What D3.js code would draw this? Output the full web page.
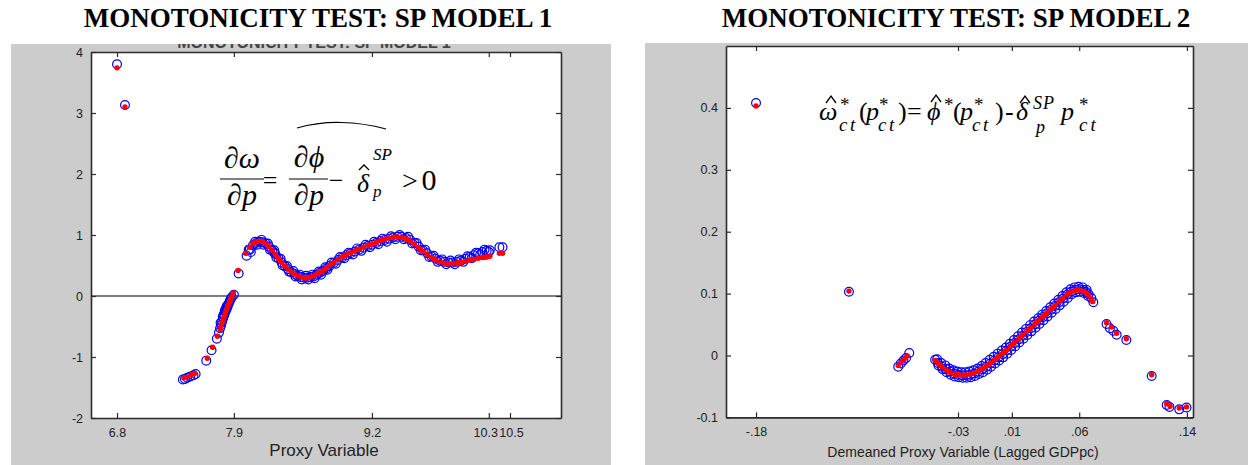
<!DOCTYPE html>
<html><head><meta charset="utf-8">
<script src="https://cdn.jsdelivr.net/npm/d3@7"></script>
<style>body{margin:0;background:#fff}svg{display:block}</style>
</head><body><svg id="c" width="1248" height="465"></svg>
<script>
// ---------- Data ----------
const titles = ["MONOTONICITY TEST: SP MODEL 1", "MONOTONICITY TEST: SP MODEL 2"];
const xLabels = ["Proxy Variable", "Demeaned Proxy Variable (Lagged GDPpc)"];

const m1XTicks = [6.8, 7.9, 9.2, 10.3, 10.5];
const m1XTickLabels = ["6.8", "7.9", "9.2", "10.3", "10.5"];
const m1YTicks = [-2, -1, 0, 1, 2, 3, 4];
const m1YTickLabels = ["-2", "-1", "0", "1", "2", "3", "4"];

const m2XTicks = [-0.18, -0.03, 0.01, 0.06, 0.14];
const m2XTickLabels = ["-.18", "-.03", ".01", ".06", ".14"];
const m2YTicks = [-0.1, 0, 0.1, 0.2, 0.3, 0.4];
const m2YTickLabels = ["-0.1", "0", "0.1", "0.2", "0.3", "0.4"];

// Model 1: blue open circles
const m1Blue = [
 [6.80,3.80],[6.875,3.13],
 [7.42,-1.37],[7.44,-1.36],[7.46,-1.34],[7.49,-1.32],[7.52,-1.30],[7.54,-1.28],
 [7.64,-1.06],[7.69,-0.89],[7.74,-0.70],[7.76,-0.60],[7.77,-0.53],[7.78,-0.48],[7.79,-0.42],
 [7.80,-0.36],[7.81,-0.31],[7.82,-0.26],[7.83,-0.22],[7.84,-0.18],[7.85,-0.13],[7.86,-0.09],
 [7.87,-0.05],[7.88,-0.02],[7.90,0.02],
 [7.945,0.37],[8.02,0.66],[8.05,0.76],[8.08,0.83],[8.11,0.87],[8.14,0.89],[8.17,0.88],[8.20,0.86],
 [8.23,0.81],[8.26,0.75],[8.28,0.71],[8.29,0.69],[8.32,0.62],[8.35,0.55],[8.38,0.49],[8.41,0.44],[8.44,0.39],
 [8.47,0.36],[8.50,0.33],[8.53,0.31],[8.56,0.30],[8.59,0.30],[8.62,0.31],[8.65,0.32],[8.68,0.35],
 [8.71,0.38],[8.74,0.41],[8.77,0.45],[8.80,0.49],[8.84,0.54],[8.88,0.59],[8.92,0.63],[8.96,0.67],
 [9.00,0.70],[9.04,0.73],[9.08,0.76],[9.12,0.79],[9.16,0.82],[9.20,0.84],[9.24,0.87],[9.28,0.90],
 [9.32,0.92],[9.36,0.94],[9.40,0.96],[9.44,0.97],[9.48,0.97],[9.52,0.95],[9.56,0.92],[9.60,0.87],
 [9.64,0.81],[9.68,0.75],[9.72,0.70],[9.76,0.65],[9.80,0.61],[9.84,0.58],[9.88,0.56],[9.92,0.55],
 [9.96,0.55],[10.00,0.56],[10.04,0.58],[10.08,0.61],[10.12,0.64],[10.16,0.67],[10.20,0.70],
 [10.24,0.72],[10.28,0.74],[10.31,0.75],[10.40,0.80],[10.43,0.80],
 // upper and lower edges of the dense band
 [8.04,0.76],[8.10,0.89],[8.16,0.92],[8.22,0.86],[8.28,0.75],[8.34,0.61],[8.40,0.49],[8.46,0.41],
 [8.52,0.35],[8.58,0.33],[8.64,0.35],[8.70,0.40],[8.76,0.47],[8.82,0.55],[8.90,0.64],[8.98,0.71],
 [9.06,0.78],[9.14,0.84],[9.22,0.89],[9.30,0.94],[9.38,0.98],[9.46,1.00],[9.54,0.97],[9.62,0.87],
 [9.70,0.76],[9.78,0.66],[9.86,0.60],[9.94,0.58],[10.02,0.60],[10.10,0.65],[10.18,0.71],[10.26,0.76],
 [8.06,0.72],[8.12,0.84],[8.18,0.84],[8.24,0.76],[8.30,0.63],[8.36,0.50],[8.42,0.40],[8.48,0.32],
 [8.54,0.27],[8.60,0.27],[8.66,0.29],[8.72,0.35],[8.78,0.43],[8.86,0.53],[8.94,0.62],[9.02,0.68],
 [9.10,0.74],[9.18,0.80],[9.26,0.85],[9.34,0.89],[9.42,0.93],[9.50,0.93],[9.58,0.86],[9.66,0.75],
 [9.74,0.64],[9.82,0.56],[9.90,0.52],[9.98,0.52],[10.06,0.56],[10.14,0.62],[10.22,0.68],[10.30,0.72],
 [7.775,-0.44],[7.795,-0.34],[7.815,-0.24],[7.835,-0.16],[7.805,-0.30],[7.825,-0.20]
];
// Model 1: red dots
const m1Red = [
 [6.80,3.74],[6.875,3.10],
 [7.43,-1.34],[7.46,-1.33],[7.50,-1.29],[7.53,-1.27],
 [7.65,-1.02],[7.70,-0.84],[7.745,-0.66],[7.77,-0.55],[7.78,-0.49],[7.79,-0.43],[7.80,-0.38],
 [7.81,-0.33],[7.82,-0.28],[7.83,-0.23],[7.84,-0.19],[7.85,-0.14],[7.86,-0.10],[7.87,-0.06],
 [7.88,-0.01],[7.895,0.05],
 [7.94,0.42],[8.01,0.70],[8.05,0.80],[8.08,0.86],[8.11,0.89],[8.14,0.90],[8.17,0.89],[8.20,0.86],
 [8.23,0.81],[8.26,0.75],[8.29,0.68],[8.32,0.61],[8.35,0.55],[8.38,0.49],[8.41,0.44],[8.44,0.40],
 [8.47,0.36],[8.50,0.33],[8.53,0.31],[8.56,0.30],[8.59,0.30],[8.62,0.31],[8.65,0.33],[8.68,0.36],
 [8.71,0.39],[8.74,0.42],[8.77,0.46],[8.80,0.50],[8.84,0.55],[8.88,0.60],[8.92,0.64],[8.96,0.68],
 [9.00,0.71],[9.04,0.74],[9.08,0.77],[9.12,0.80],[9.16,0.83],[9.20,0.85],[9.24,0.88],[9.28,0.91],
 [9.32,0.93],[9.36,0.95],[9.40,0.96],[9.44,0.97],[9.48,0.96],[9.52,0.94],[9.56,0.90],[9.60,0.85],
 [9.64,0.79],[9.68,0.73],[9.72,0.68],[9.76,0.63],[9.80,0.59],[9.84,0.56],[9.88,0.54],[9.92,0.53],
 [9.96,0.53],[10.00,0.54],[10.04,0.55],[10.08,0.57],[10.12,0.59],[10.16,0.60],[10.20,0.62],
 [10.24,0.63],[10.28,0.64],[10.31,0.65],[10.40,0.70],[10.43,0.70],
 [8.10,0.88],[8.22,0.83],[8.34,0.57],[8.46,0.37],[8.58,0.30],[8.70,0.38],[8.82,0.53],[8.94,0.66],
 [9.06,0.76],[9.18,0.84],[9.30,0.92],[9.42,0.97],[9.54,0.92],[9.66,0.76],[9.78,0.61],[9.90,0.53],
 [10.02,0.545],[10.14,0.595],[10.26,0.635]
];

// Model 2: blue open circles
const m2Blue = [
 [-0.180,0.408],[-0.111,0.103],
 [-0.0744,-0.018],[-0.0725,-0.013],[-0.0705,-0.008],[-0.0686,-0.004],[-0.0662,0.004],
 [-0.047,-0.007],[-0.045,-0.012],[-0.042,-0.018],[-0.039,-0.022],[-0.036,-0.026],[-0.033,-0.029],
 [-0.030,-0.031],[-0.027,-0.032],[-0.024,-0.032],[-0.021,-0.031],[-0.018,-0.029],[-0.015,-0.026],
 [-0.012,-0.022],[-0.009,-0.018],[-0.006,-0.013],[-0.003,-0.008],[0.000,-0.003],[0.003,0.002],
 [0.006,0.008],[0.009,0.014],[0.012,0.020],[0.015,0.026],[0.018,0.032],[0.021,0.038],[0.024,0.044],
 [0.027,0.050],[0.030,0.056],[0.033,0.062],[0.036,0.068],[0.039,0.074],[0.042,0.080],[0.045,0.086],
 [0.048,0.092],[0.051,0.098],[0.054,0.103],[0.057,0.106],[0.060,0.107],[0.063,0.106],[0.065,0.103],
 [0.067,0.099],[0.069,0.093],[0.0705,0.086],
 // band edges
 [-0.0455,-0.006],[-0.0425,-0.012],[-0.0395,-0.016],[-0.0365,-0.021],[-0.0335,-0.024],[-0.0305,-0.026],
 [-0.0275,-0.027],[-0.0245,-0.027],[-0.0215,-0.026],[-0.0185,-0.024],[-0.0155,-0.021],[-0.0125,-0.017],
 [-0.0095,-0.012],[-0.0065,-0.007],[-0.0035,-0.002],[-0.0005,0.003],[0.0025,0.008],[0.0055,0.013],
 [0.0085,0.019],[0.0115,0.025],[0.0145,0.031],[0.0175,0.037],[0.0205,0.043],[0.0235,0.049],
 [0.0265,0.055],[0.0295,0.060],[0.0325,0.066],[0.0355,0.072],[0.0385,0.078],[0.0415,0.084],
 [0.0445,0.090],[0.0475,0.096],[0.0505,0.102],[0.0535,0.107],[0.0565,0.110],[0.0595,0.111],
 [0.0625,0.110],[0.0655,0.106],
 [-0.0445,-0.016],[-0.0415,-0.022],[-0.0385,-0.027],[-0.0355,-0.031],[-0.0325,-0.034],[-0.0295,-0.035],
 [-0.0265,-0.036],[-0.0235,-0.036],[-0.0205,-0.035],[-0.0175,-0.033],[-0.0145,-0.030],[-0.0115,-0.027],
 [-0.0085,-0.023],[-0.0055,-0.018],[-0.0025,-0.013],[0.0005,-0.008],[0.0035,-0.003],[0.0065,0.003],
 [0.0095,0.009],[0.0125,0.015],[0.0155,0.021],[0.0185,0.027],[0.0215,0.033],[0.0245,0.039],
 [0.0275,0.045],[0.0305,0.051],[0.0335,0.057],[0.0365,0.063],[0.0395,0.069],[0.0425,0.075],
 [0.0455,0.081],[0.0485,0.087],[0.0515,0.093],[0.0545,0.099],[0.0575,0.102],[0.0605,0.103],
 [0.0635,0.101],[0.0665,0.096],
 [0.0803,0.051],[0.0828,0.044],[0.0853,0.040],[0.0878,0.0335],[0.095,0.025],
 [0.1138,-0.033],
 [0.125,-0.080],[0.127,-0.083],[0.1343,-0.087],[0.1397,-0.084]
];
// Model 2: red dots
const m2Red = [
 [-0.180,0.403],[-0.111,0.104],
 [-0.0744,-0.016],[-0.072,-0.010],[-0.070,-0.006],[-0.068,-0.001],
 [-0.047,-0.008],[-0.045,-0.013],[-0.042,-0.018],[-0.039,-0.023],[-0.036,-0.027],[-0.033,-0.030],
 [-0.030,-0.031],[-0.027,-0.032],[-0.024,-0.032],[-0.021,-0.030],[-0.018,-0.028],[-0.015,-0.025],
 [-0.012,-0.021],[-0.009,-0.017],[-0.006,-0.012],[-0.003,-0.007],[0.000,-0.002],[0.003,0.003],
 [0.006,0.009],[0.009,0.015],[0.012,0.021],[0.015,0.027],[0.018,0.033],[0.021,0.039],[0.024,0.045],
 [0.027,0.051],[0.030,0.057],[0.033,0.063],[0.036,0.069],[0.039,0.075],[0.042,0.081],[0.045,0.087],
 [0.048,0.093],[0.051,0.099],[0.054,0.103],[0.057,0.105],[0.060,0.106],[0.063,0.104],[0.065,0.101],
 [0.067,0.097],[0.069,0.091],[0.070,0.087],
 [-0.0435,-0.015],[-0.0375,-0.025],[-0.0315,-0.031],[-0.0255,-0.032],[-0.0195,-0.029],[-0.0135,-0.023],
 [-0.0075,-0.015],[-0.0015,-0.005],[0.0045,0.006],[0.0105,0.018],[0.0165,0.030],[0.0225,0.042],
 [0.0285,0.054],[0.0345,0.066],[0.0405,0.078],[0.0465,0.090],[0.0525,0.101],[0.0585,0.106],[0.0640,0.103],
 [0.0803,0.053],[0.0840,0.046],[0.0878,0.036],[0.095,0.027],
 [0.1138,-0.031],
 [0.125,-0.078],[0.1275,-0.082],[0.1343,-0.085],[0.1397,-0.083]
];

// ---------- Drawing ----------
const svg = d3.select("#c");
const ink = "#2b2b2b";
const sans = "Liberation Sans, Arial, sans-serif";
const serif = "Liberation Serif, Times New Roman, serif";

function panel(o) {
  svg.append("rect").attr("x", o.bg[0]).attr("y", o.bg[1]).attr("width", o.bg[2]).attr("height", o.bg[3]).attr("fill", "#cccccc");
  const x = d3.scaleLinear().domain(o.xDomain).range([o.L, o.R]);
  const y = d3.scaleLinear().domain(o.yDomain).range([o.B, o.T]);
  svg.append("rect").attr("x", o.L).attr("y", o.T).attr("width", o.R - o.L).attr("height", o.B - o.T).attr("fill", "#fff");
  const g = svg.append("g");
  if (o.zeroLine) {
    g.append("line").attr("x1", o.L).attr("x2", o.R).attr("y1", y(0)).attr("y2", y(0)).attr("stroke", "#000").attr("stroke-width", 1.2);
  }
  const clipId = "clip" + o.id;
  svg.append("clipPath").attr("id", clipId).append("rect").attr("x", o.L).attr("y", o.T).attr("width", o.R - o.L).attr("height", o.B - o.T);
  const pts = g.append("g").attr("clip-path", `url(#${clipId})`);
  pts.selectAll("circle.b").data(o.blue).join("circle").attr("class", "b")
    .attr("cx", d => x(d[0])).attr("cy", d => y(d[1])).attr("r", 4.4)
    .attr("fill", "none").attr("stroke", "#0000ff").attr("stroke-width", 1.2);
  pts.selectAll("circle.r").data(o.red).join("circle").attr("class", "r")
    .attr("cx", d => x(d[0])).attr("cy", d => y(d[1])).attr("r", 2.7)
    .attr("fill", "#ff0000");

  const tl = 5;
  const axB = d3.axisBottom(x).tickValues(o.xTicks).tickFormat((d, i) => o.xTickLabels[i]).tickSizeInner(-tl).tickSizeOuter(0).tickPadding(10);
  const axT = d3.axisTop(x).tickValues(o.xTicks).tickFormat("").tickSizeInner(-tl).tickSizeOuter(0);
  const axL = d3.axisLeft(y).tickValues(o.yTicks).tickFormat((d, i) => o.yTickLabels[i]).tickSizeInner(-tl).tickSizeOuter(0).tickPadding(8);
  const axR = d3.axisRight(y).tickValues(o.yTicks).tickFormat("").tickSizeInner(-tl).tickSizeOuter(0);
  const style = sel => {
    sel.selectAll("path").attr("stroke", ink).attr("stroke-width", 1.6);
    sel.selectAll("line").attr("stroke", ink).attr("stroke-width", 1.2);
    sel.selectAll("text").attr("fill", "#222").attr("font-family", sans).attr("font-size", 12.5);
  };
  const gb = svg.append("g").attr("transform", `translate(0,${o.B})`).call(axB).call(style);
  if (o.labelNudge) gb.selectAll(".tick text").attr("dx", (d, i) => o.labelNudge[i]);
  svg.append("g").attr("transform", `translate(0,${o.T})`).call(axT).call(style);
  svg.append("g").attr("transform", `translate(${o.L},0)`).call(axL).call(style);
  svg.append("g").attr("transform", `translate(${o.R},0)`).call(axR).call(style);

  svg.append("text").attr("x", o.titleX).attr("y", 27).attr("text-anchor", "middle")
    .attr("font-family", serif).attr("font-weight", "bold").attr("font-size", 27)
    .attr("fill", "#000").text(o.title);
  svg.append("text").attr("x", o.xlabX).attr("y", o.xlabY).attr("text-anchor", "middle")
    .attr("font-family", sans).attr("font-size", o.xlabSize).attr("fill", "#222").text(o.xlab);
  return {x, y};
}

panel({id: 1, bg: [11, 44, 600, 421], L: 91, R: 561, T: 52, B: 418,
  xDomain: [6.555, 10.98], yDomain: [-2, 4], zeroLine: true,
  xTicks: m1XTicks, xTickLabels: m1XTickLabels, yTicks: m1YTicks, yTickLabels: m1YTickLabels,
  labelNudge: [0, 0, 0, -3.5, 1],
  blue: m1Blue, red: m1Red, title: titles[0], titleX: 318, xlab: xLabels[0], xlabX: 324, xlabY: 456, xlabSize: 17});

panel({id: 2, bg: [645, 43, 603, 422], L: 726, R: 1193, T: 46, B: 417.4,
  xDomain: [-0.2023, 0.1445], yDomain: [-0.1, 0.5], zeroLine: false,
  xTicks: m2XTicks, xTickLabels: m2XTickLabels, yTicks: m2YTicks, yTickLabels: m2YTickLabels,
  blue: m2Blue, red: m2Red, title: titles[1], titleX: 956, xlab: xLabels[1], xlabX: 963, xlabY: 457, xlabSize: 14});

// clipped MATLAB axes title remnant above left plot
svg.append("clipPath").attr("id", "tclip").append("rect").attr("x", 11).attr("y", 44).attr("width", 600).attr("height", 8);
svg.append("text").attr("clip-path", "url(#tclip)").attr("x", 314).attr("y", 47.5).attr("text-anchor", "middle")
  .attr("font-family", sans).attr("font-weight", "bold").attr("font-size", 16)
  .attr("fill", "#444").text(titles[0]);

// ---------- Formulas ----------
function t(x, y, s, size, italic, anchor, ls) {
  svg.append("text").attr("x", x).attr("y", y).attr("font-family", serif)
    .attr("font-size", size).attr("font-style", italic ? "italic" : "normal").attr("fill", "#000")
    .attr("letter-spacing", ls || 0)
    .attr("text-anchor", anchor || "start").text(s);
}
function hat(cx, yb, w, h) {
  svg.append("path").attr("d", `M${cx - w / 2},${yb} L${cx},${yb - h} L${cx + w / 2},${yb}`)
    .attr("fill", "none").attr("stroke", "#000").attr("stroke-width", 1.3);
}
function bar(x1, x2, y) {
  svg.append("line").attr("x1", x1).attr("x2", x2).attr("y1", y).attr("y2", y).attr("stroke", "#000").attr("stroke-width", 1.2);
}
// Left formula
t(242, 168, "∂ω", 30, true, "middle");
bar(220, 264, 179);
t(242, 205, "∂p", 30, true, "middle");
t(270, 189, "=", 26, false, "middle");
t(309, 167, "∂ϕ", 30, true, "middle");
bar(289, 328, 179);
t(309, 205, "∂p", 30, true, "middle");
t(336, 189, "−", 26, false, "middle");
t(363, 192, "δ", 26, true, "middle");
hat(364, 170, 10, 5);
t(373, 160, "SP", 17, true);
t(373, 197, "p", 17, true);
t(410, 190, ">", 28, false, "middle");
t(429, 190, "0", 30, false, "middle");
svg.append("path").attr("d", "M297,128 Q318,122 341,122.5 Q364,123 386,129").attr("fill", "none").attr("stroke", "#000").attr("stroke-width", 1.2);

// Right formula
const rb = 120;
t(819, rb, "ω", 26, true);
hat(831, 103, 10, 7);
t(840, 111, "*", 19, false);
t(839, 131, "ct", 19, true, "start", 2.5);
t(859, rb, "(", 26, false);
t(866, rb, "p", 26, true);
t(879, 111, "*", 19, false);
t(878, 131, "ct", 19, true, "start", 2.5);
t(898, rb, ")", 26, false);
t(907, rb, "=", 26, false);
t(927, rb, "ϕ", 26, true);
hat(936, 102, 10, 7);
t(944, 111, "*", 19, false);
t(953, rb, "(", 26, false);
t(960, rb, "p", 26, true);
t(974, 111, "*", 19, false);
t(972, 131, "ct", 19, true, "start", 2.5);
t(995, rb, ")", 26, false);
t(1005, rb, "-", 26, false);
t(1016, rb, "δ", 26, true);
hat(1025, 103, 10, 7);
t(1033, 109, "SP", 18, true, "start", 1);
t(1036, 133, "p", 18, true);
t(1061, rb, "p", 26, true);
t(1079, 111, "*", 19, false);
t(1079, 131, "ct", 19, true, "start", 3);
</script></body></html>
